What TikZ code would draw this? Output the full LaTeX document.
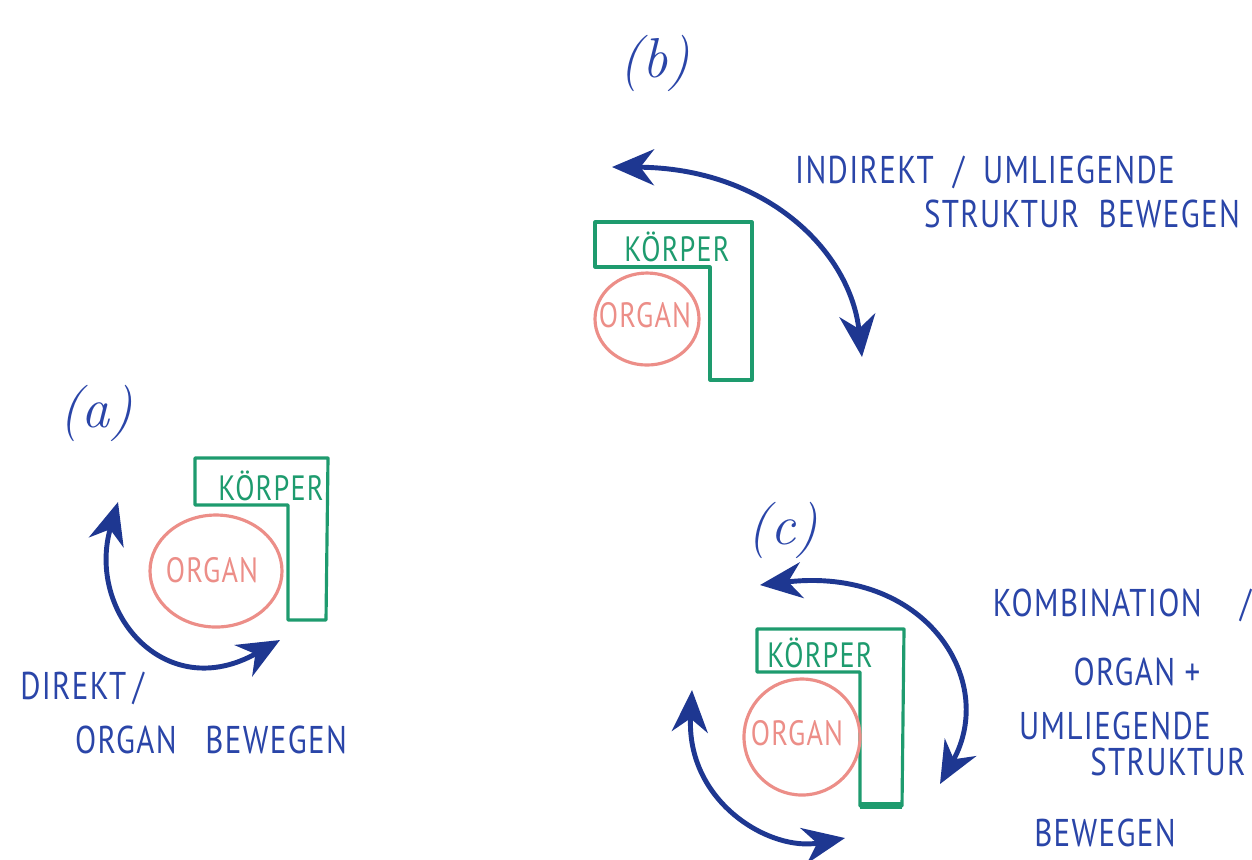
\documentclass[tikz,border=0pt]{standalone}
\usepackage{fontspec}
\usetikzlibrary{arrows.meta}
\newfontfamily\handfont{PT Sans}[FakeStretch=0.8,LetterSpace=3.5]
\definecolor{penblue}{HTML}{2A45A8}
\definecolor{arrowblue}{HTML}{1E3791}
\definecolor{pengreen}{HTML}{1E9B6E}
\definecolor{penred}{HTML}{EC8E88}

\begin{document}
\begin{tikzpicture}[x=0.01cm,y=-0.01cm,
    every node/.style={inner sep=1.5pt},
    hand/.style={text=penblue,font=\handfont\fontsize{11}{13}\selectfont},
    panel/.style={text=penblue,font=\fontsize{16}{18}\selectfont\itshape},
    korper/.style={draw=pengreen,line width=0.9pt,line join=round},
    korpertext/.style={text=pengreen,font=\handfont\fontsize{10}{12}\selectfont},
    organtext/.style={text=penred,font=\handfont\fontsize{10}{12}\selectfont},
    organring/.style={draw=penred,line width=0.9pt},
    swing/.style={draw=arrowblue,line width=1.4pt,
      {Stealth[length=4.2mm,width=3.6mm]}-{Stealth[length=4.2mm,width=3.6mm]}}]
  \useasboundingbox (0,0) rectangle (1252,859);

  % (b)
  \node[panel] (Lb) at (655,63) {(b)};
  \draw[korper] (595,222) -- (752,222) -- (752,380) -- (710,380) -- (710,267) -- (595,267) -- cycle;
  \node[korpertext] (Kb) at (677,247) {KÖRPER};
  \node[organtext] (Ob) at (645,315) {ORGAN};
  \draw[organring] (647,319) ellipse [x radius=52, y radius=46];
  \coordinate (b1) at (612,167);
  \coordinate (b2) at (862,357);
  \draw[swing] (b1) .. controls (765,168) and (850,250) .. (b2);
  \node[hand] (Tb1) at (985,172) {INDIREKT \ / \ UMLIEGENDE};
  \node[hand] (Tb2) at (1082,214) {STRUKTUR \ BEWEGEN};

  % (a)
  \node[panel] (La) at (96,413) {(a)};
  \draw[korper] (195,458) -- (328,458) -- (326,620) -- (288,620) -- (288,505) -- (195,505) -- cycle;
  \node[korpertext] (Ka) at (271,486) {KÖRPER};
  \node[organtext] (Oa) at (212,570) {ORGAN};
  \draw[organring] (216,571) ellipse [x radius=66, y radius=56];
  \coordinate (a1) at (118,502);
  \coordinate (a2) at (280,640);
  \draw[swing] (a1) .. controls (86,612) and (165,705) .. (a2);
  \node[hand] (Ta1) at (82,688) {DIREKT\,/};
  \node[hand] (Ta2) at (211,740) {ORGAN \ \ BEWEGEN};

  % (c)
  \node[panel] (Lc) at (783,530) {(c)};
  \draw[korper] (757,629) -- (904,629) -- (902,806) -- (860,806) -- (860,672) -- (757,672) -- cycle;
  \draw[korper,line width=2pt] (860,805) -- (902,805);
  \node[korpertext] (Kc) at (820,653) {KÖRPER};
  \node[organtext] (Oc) at (797,733) {ORGAN};
  \draw[organring] (802,737) ellipse [x radius=58, y radius=58];
  \coordinate (c1) at (760,585);
  \coordinate (c2) at (940,784);
  \coordinate (c3) at (692,690);
  \coordinate (c4) at (845,838);
  \draw[swing] (c1) .. controls (925,566) and (998,680) .. (c2);
  \draw[swing] (c3) .. controls (686,802) and (770,852) .. (c4);
  \node[hand] (Tc1) at (1122,605) {KOMBINATION \ \ \ /};
  \node[hand] (Tc2) at (1137,672) {ORGAN +};
  \node[hand] (Tc3) at (1115,726) {UMLIEGENDE};
  \node[hand] (Tc4) at (1168,762) {STRUKTUR};
  \node[hand] (Tc5) at (1105,833) {BEWEGEN};
\end{tikzpicture}
\end{document}
